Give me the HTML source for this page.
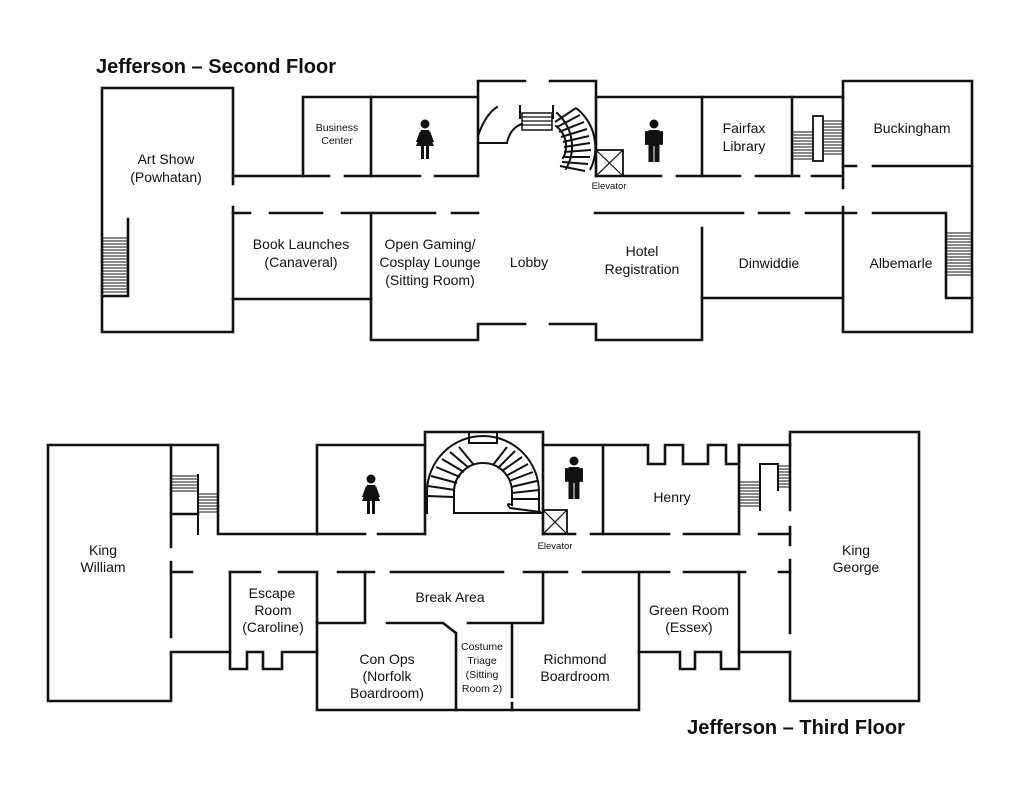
<!DOCTYPE html>
<html><head><meta charset="utf-8"><style>
html,body{margin:0;padding:0;background:#fff;}
svg{display:block;}
text{font-family:"Liberation Sans",Arial,sans-serif;fill:#111;text-anchor:middle;}
</style></head><body>
<svg width="1024" height="791" viewBox="0 0 1024 791" xmlns="http://www.w3.org/2000/svg">
<defs>
<g id="woman"><circle cx="0" cy="-20" r="4.5"/><path d="M-4,-14 L4,-14 L7,-3 L9,2 L-9,2 L-7,-3 Z"/><path d="M-5,-13 L-9,-2 L-7,-2 L-4,-10 Z M5,-13 L9,-2 L7,-2 L4,-10 Z"/><rect x="-4" y="2" width="3" height="13"/><rect x="1" y="2" width="3" height="13"/></g>
<g id="man"><circle cx="0" cy="-20" r="4.5"/><rect x="-6" y="-14" width="12" height="16" rx="2"/><rect x="-9" y="-13" width="3" height="14" rx="1"/><rect x="6" y="-13" width="3" height="14" rx="1"/><rect x="-5.5" y="1" width="5" height="17"/><rect x="0.5" y="1" width="5" height="17"/></g>
</defs>
<g fill="none" stroke="#111" stroke-width="2.6" stroke-linecap="square">
<polyline points="233,184 233,88 102,88 102,332 233,332 233,207"/>
<polyline points="128,219 128,296 102,296"/>
<path d="M233,176 H329 M345,176 H420 M435,176 H478"/>
<polyline points="303,176 303,97 478,97"/>
<line x1="371" y1="97" x2="371" y2="176"/>
<path d="M478,176 V81 H525 M550,81 H596 V176"/>
<polyline points="596,97 843,97"/>
<line x1="702" y1="97" x2="702" y2="176"/>
<line x1="792" y1="97" x2="792" y2="176"/>
<path d="M596,176 H661 M677,176 H740 M756,176 H799 M812,176 H843"/>
<polyline points="843,188 843,81 972,81 972,332 843,332 843,207"/>
<path d="M843,166 H856 M873,166 H972"/>
<path d="M233,213 H250 M270,213 H322 M342,213 H435 M452,213 H478"/>
<path d="M595,213 H743 M759,213 H789 M806,213 H856 M873,213 H946 V298 H972"/>
<polyline points="233,299 371,299"/>
<polyline points="371,213 371,340 478,340 478,324 525,324"/>
<polyline points="550,324 596,324 596,340 702,340 702,228"/>
<polyline points="702,298 843,298"/>
<path d="M478,143 H507 Q510,128 522,124" stroke-width="2"/>
<path d="M478,136 Q485,115 497,107" stroke-width="2"/>
<path d="M520,106 V118 M553,106 V118" stroke-width="2"/>
<rect x="522" y="113" width="30" height="17" stroke-width="1.5"/>
<path d="M522,117 H552 M522,121 H552 M522,125 H552" stroke-width="1.2"/>
<path d="M557,113 A45,45 0 0 1 566,169 M556,126 A25,25 0 0 1 563,158" stroke-width="2"/>
<rect x="596" y="150" width="27" height="26" stroke-width="1.8"/>
<path d="M596,150 L623,176 M623,150 L596,176" stroke-width="1.2"/>
<rect x="813" y="116" width="10" height="45" stroke-width="1.8"/>
</g>
<g stroke="#111" stroke-width="2" fill="none">
<path d="M555,122 L576,108 M557,127 L580,115 M559,132 L584,122 M561,137 L587,129 M563,142 L589,136 M564,147 L590,143 M564,152 L591,150 M563,157 L590,157 M562,162 L588,164 M560,166 L585,171"/>
<path d="M576,108 A50,50 0 0 1 590,170"/>
</g>
<g stroke="#111" stroke-width="1" fill="none">
<path d="M103,238 H127 M103,241 H127 M103,244 H127 M103,247 H127 M103,250 H127 M103,253 H127 M103,256 H127 M103,259 H127 M103,262 H127 M103,265 H127 M103,268 H127 M103,271 H127 M103,274 H127 M103,277 H127 M103,280 H127 M103,283 H127 M103,286 H127 M103,289 H127 M103,292 H127"/>
<path d="M947,233 H971 M947,236 H971 M947,239 H971 M947,242 H971 M947,245 H971 M947,248 H971 M947,251 H971 M947,254 H971 M947,257 H971 M947,260 H971 M947,263 H971 M947,266 H971 M947,269 H971 M947,272 H971 M947,275 H971"/>
<path d="M793,132 H813 M793,135 H813 M793,138 H813 M793,141 H813 M793,144 H813 M793,147 H813 M793,150 H813 M793,153 H813 M793,156 H813 M793,159 H813"/>
<path d="M823,121 H842 M823,124 H842 M823,127 H842 M823,130 H842 M823,133 H842 M823,136 H842 M823,139 H842 M823,142 H842 M823,145 H842 M823,148 H842 M823,151 H842 M823,154 H842"/>
</g>
<g fill="none" stroke="#111" stroke-width="2.6" stroke-linecap="square">
<polyline points="171,547 171,445 48,445 48,701 171,701 171,652 230,652"/>
<line x1="171" y1="562" x2="171" y2="637"/>
<polyline points="171,445 218,445 218,534 317,534"/>
<polyline points="171,514 198,514"/>
<line x1="198" y1="475" x2="198" y2="534" stroke-width="2"/>
<polyline points="317,534 317,445 425,445"/>
<path d="M317,534 H365 M378,534 H425"/>
<polyline points="425,534 425,432 543,432 543,534"/>
<path d="M171,572 H192 M230,572 H260 M279,572 H317 M338,572 H374 M391,572 H503 M524,572 H567 M583,572 H669 M684,572 H745 M779,572 H790"/>
<polyline points="230,572 230,652 230,669 247,669 247,652 263,652 263,669 282,669 282,652 317,652"/>
<polyline points="317,572 317,710 639,710 639,572"/>
<polyline points="365,572 365,623 317,623"/>
<polyline points="387,623 443,623 456,633 456,710"/>
<polyline points="468,623 543,623 543,572"/>
<path d="M512,624 V697 M512,703 V710"/>
<polyline points="639,652 680,652 680,669 695,669 695,652 721,652 721,669 739,669 739,652 790,652"/>
<line x1="739" y1="572" x2="739" y2="652"/>
<polyline points="543,445 648,445 648,464 665,464 665,445 683,445 683,464 708,464 708,445 726,445 726,464 739,464 739,445 790,445"/>
<line x1="603" y1="445" x2="603" y2="534"/>
<line x1="739" y1="445" x2="739" y2="534"/>
<path d="M543,534 H575 M591,534 H669 M684,534 H739 M759,534 H790"/>
<polyline points="790,510 790,432 919,432 919,701 790,701 790,652"/>
<path d="M790,527 V545 M790,560 V633"/>
<polyline points="760,510 760,464 778,464 778,490" stroke-width="2"/>
<path d="M469,432 V443 H497 V432" stroke-width="2"/>
<path d="M427,513 V492 A56,56 0 0 1 539,492 V513" stroke-width="2"/>
<path d="M454,513 V492 A29,29 0 0 1 512,492 V505" stroke-width="2"/>
<path d="M454,513 H543" stroke-width="2"/>
<path d="M512,505 Q505,502 510,508 L540,512" stroke-width="2"/>
<rect x="543" y="510" width="24" height="24" stroke-width="1.8"/>
<path d="M543,510 L567,534 M567,510 L543,534" stroke-width="1.2"/>
</g>
<g stroke="#111" stroke-width="2" fill="none">
<path d="M427,496 L454,497 M428,486 L455,490 M431,476 L457,483 M436,467 L460,477 M442,459 L464,472 M450,452 L469,468 M459,447 L474,465"/>
<path d="M507,447 L493,465 M515,451 L498,468 M522,457 L502,471 M528,464 L506,476 M533,472 L509,481 M537,481 L511,487 M539,490 L512,493 M539,499 L512,499"/>
</g>
<g stroke="#111" stroke-width="1" fill="none">
<path d="M172,476 H197 M172,479 H197 M172,482 H197 M172,485 H197 M172,488 H197 M172,491 H197"/>
<path d="M198,494 H217 M198,497 H217 M198,500 H217 M198,503 H217 M198,506 H217 M198,509 H217 M198,512 H217"/>
<path d="M740,482 H760 M740,485 H760 M740,488 H760 M740,491 H760 M740,494 H760 M740,497 H760 M740,500 H760 M740,503 H760 M740,506 H760"/>
<path d="M778,466 H789 M778,469 H789 M778,472 H789 M778,475 H789 M778,478 H789 M778,481 H789 M778,484 H789 M778,487 H789"/>
</g>
<g fill="#111"><use href="#woman" transform="translate(425,144)"/><use href="#man" transform="translate(654,144)"/><use href="#woman" transform="translate(371,499)"/><use href="#man" transform="translate(574,481)"/></g>
<text x="216" y="73" style="font-size:20px;font-weight:bold">Jefferson – Second Floor</text>
<text x="796" y="734" style="font-size:20px;font-weight:bold">Jefferson – Third Floor</text>
<g style="font-size:14px">
<text x="166" y="164">Art Show</text><text x="166" y="182">(Powhatan)</text>
<text x="301" y="249">Book Launches</text><text x="301" y="267">(Canaveral)</text>
<text x="430" y="249">Open Gaming/</text><text x="430" y="267">Cosplay Lounge</text><text x="430" y="285">(Sitting Room)</text>
<text x="529" y="267">Lobby</text>
<text x="642" y="256">Hotel</text><text x="642" y="274">Registration</text>
<text x="769" y="268">Dinwiddie</text>
<text x="901" y="268">Albemarle</text>
<text x="744" y="133">Fairfax</text><text x="744" y="151">Library</text>
<text x="912" y="133">Buckingham</text>
</g>
<g style="font-size:10.5px"><text x="337" y="131">Business</text><text x="337" y="144">Center</text></g>
<text x="609" y="189" style="font-size:9.5px">Elevator</text>
<g style="font-size:14px">
<text x="103" y="555">King</text><text x="103" y="572">William</text>
<text x="272" y="598">Escape</text><text x="273" y="615">Room</text><text x="273" y="632">(Caroline)</text>
<text x="450" y="602">Break Area</text>
<text x="387" y="664">Con Ops</text><text x="387" y="681">(Norfolk</text><text x="387" y="698">Boardroom)</text>
<text x="575" y="664">Richmond</text><text x="575" y="681">Boardroom</text>
<text x="689" y="615">Green Room</text><text x="689" y="632">(Essex)</text>
<text x="672" y="502">Henry</text>
<text x="856" y="555">King</text><text x="856" y="572">George</text>
</g>
<g style="font-size:10.5px"><text x="482" y="650">Costume</text><text x="482" y="664">Triage</text><text x="482" y="678">(Sitting</text><text x="482" y="692">Room 2)</text></g>
<text x="555" y="549" style="font-size:9.5px">Elevator</text>
</svg>
</body></html>
